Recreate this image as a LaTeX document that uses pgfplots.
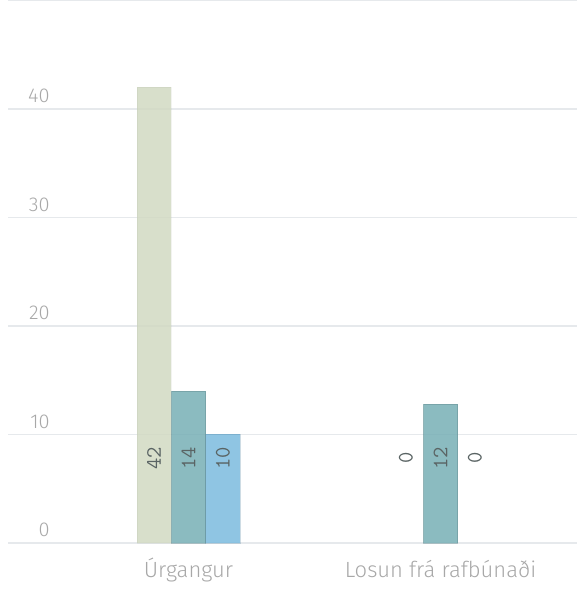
\documentclass[border=0pt]{standalone}
\usepackage{fontspec}
\setmainfont{Fira Sans}[UprightFont=* Light]
\usepackage{pgfplots}
\pgfplotsset{compat=1.18}
\definecolor{cSage}{HTML}{D1D9C2}
\definecolor{cTeal}{HTML}{77AFB5}
\definecolor{cBlue}{HTML}{7BBBDE}
\definecolor{gridc}{HTML}{E6E9EC}
\definecolor{tickc}{HTML}{A8A8A8}
\definecolor{labc}{HTML}{5A6464}
\begin{document}
\begin{tikzpicture}
\path[use as bounding box] (-4pt,-32.5pt) rectangle (284.5pt,271.5pt);
\begin{axis}[
  at={(0pt,0pt)}, anchor=south west,
  scale only axis, width=284.5pt, height=271.25pt,
  xmin=-0.7163, xmax=1.5417, ymin=0, ymax=50,
  ybar=0pt, bar width=17.25pt,
  axis line style={draw=none},
  major tick length=0pt,
  ymajorgrids, grid style={color=gridc, line width=0.6pt},
  ytick={0,10,20,30,40,50},
  yticklabels={0,10,20,30,40,{}},
  yticklabel style={font=\fontsize{10}{12}\selectfont, text=tickc, anchor=base east, inner sep=0pt, xshift=21pt, yshift=3pt},
  xtick={0,1},
  xticklabels={Úrgangur, Losun frá rafbúnaði},
  xticklabel style={font=\fontsize{11}{13}\selectfont, text=tickc, anchor=base, inner sep=0pt, yshift=-17pt},
  /pgf/number format/assume math mode=true,
  clip=false,
]
\addplot[fill=cSage, draw=cSage!80!black, line width=0.2pt, fill opacity=0.85, draw opacity=0.15] coordinates {(0,42)};
\addplot[fill=cTeal, draw=cTeal!70!black, line width=0.3pt, fill opacity=0.85, draw opacity=0.35] coordinates {(0,14) (1,12.8)};
\addplot[fill=cBlue, draw=cBlue!75!black, line width=0.3pt, fill opacity=0.85, draw opacity=0.3] coordinates {(0,10)};
\begin{scope}[every node/.style={rotate=90, font=\ttfamily\fontsize{11}{12}\selectfont, text=labc, inner sep=0pt}]
\node at (axis cs:-0.1369,7.83) {42};
\node at (axis cs:0,7.83) {14};
\node at (axis cs:0.1369,7.83) {10};
\node at (axis cs:0.8631,7.83) {0};
\node at (axis cs:1,7.83) {12};
\node at (axis cs:1.1369,7.83) {0};
\end{scope}
\end{axis}
\end{tikzpicture}
\end{document}
